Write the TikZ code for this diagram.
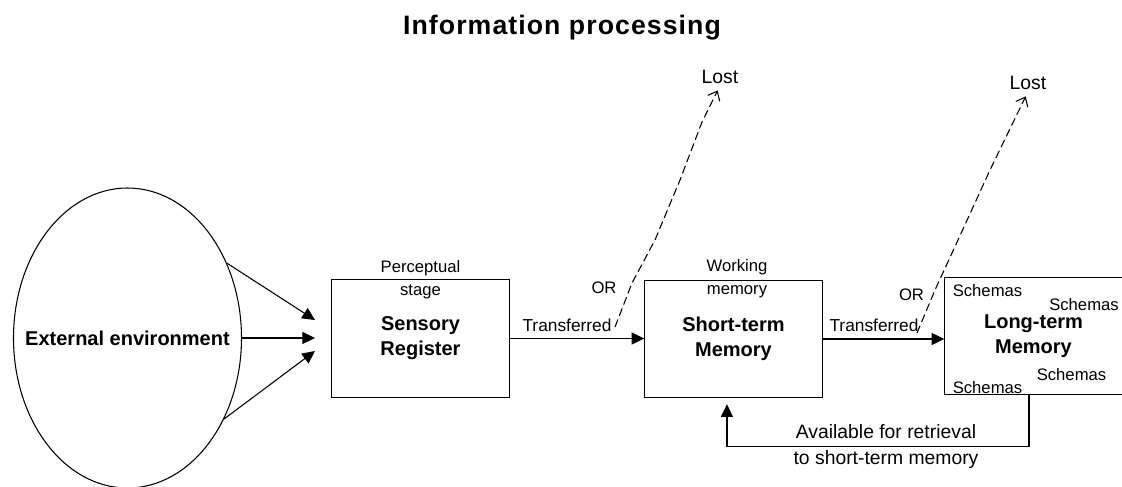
\documentclass[tikz,border=0pt]{standalone}
\usepackage{fontspec}
\setmainfont{Liberation Sans}
\newfontfamily\titlefont[LetterSpace=4]{Liberation Sans}
\usetikzlibrary{arrows.meta,shapes.geometric}
\tikzset{
  box/.style={draw, minimum width=133pt, minimum height=88pt, inner sep=0pt, align=center,
    font=\bfseries\fontsize{15}{18.75}\selectfont},
  lbl/.style={font=\fontsize{12.5}{17}\selectfont, align=center, inner sep=1pt},
  arr/.style={-{Triangle[length=9.5pt,width=9pt]}},
  lostarr/.style={dash pattern=on 6pt off 3pt, -{Straight Barb[length=6pt,width=10pt]}, shorten >=4pt}
}

\begin{document}
\begin{tikzpicture}[x=0.75pt, y=-0.75pt, line width=0.8pt]
    \useasboundingbox (0,0) rectangle (1122,486);
    \node[font=\titlefont\bfseries\fontsize{20}{24}\selectfont] (title) at (562,28) {Information processing};
    % environment
    \node[draw, ellipse, minimum width=171pt, minimum height=225pt, inner sep=0pt] (env) at (127.5,338) {};
    \node[font=\bfseries\fontsize{15}{18}\selectfont] (envtext) at (env) {External environment};
    \coordinate (in1) at (315,320); \coordinate (in2) at (315,338); \coordinate (in3) at (315,351);
    \draw[arr] (env.37) -- (in1);
    \draw[arr] (env.east) -- (in2);
    \draw[arr] (env.-40) -- (in3);
    % stores
    \node[box] (sens) at (420.5,338.5) {Sensory\\Register};
    \node[box] (stm) at (733.5,339) {Short-term\\Memory};
    \node[box] (ltm) at (1033.5,336) {Long-term\\Memory};
    \node[lbl] (perc) at (420.5,279.5) {Perceptual\\stage};
    \node[lbl] (work) at (737,279) {Working\\memory};
    \draw[arr] (sens.east) -- (sens.east -| stm.west);
    \draw[arr] (stm.east) -- (stm.east -| ltm.west);
    % transferred or lost
    \node[lbl, font=\fontsize{13}{15}\selectfont] (tr1) at (567,325) {Transferred};
    \node[lbl, font=\fontsize{13}{15}\selectfont] (tr2) at (874,325) {Transferred};
    \node[lbl] (or1) at (604,288) {OR};
    \node[lbl] (or2) at (911.5,295) {OR};
    \node[lbl, font=\fontsize{14.5}{17}\selectfont] (lost1) at (720,77) {Lost};
    \node[lbl, font=\fontsize{14.5}{17}\selectfont] (lost2) at (1028,83) {Lost};
    \coordinate (d1) at (615,327); \coordinate (d2) at (917,333);
    \draw[lostarr] (d1) -- (632,283) -- (655,240) -- (680,180) -- (702,122) -- (lost1.south);
    \draw[lostarr] (d2) -- (935,290) -- (958,240) -- (990,170) -- (lost2.south);
    % schemas
    \node[lbl] (sc1) at (987.5,291) {Schemas};
    \node[lbl] (sc2) at (1084,305) {Schemas};
    \node[lbl] (sc3) at (1071.5,375) {Schemas};
    \node[lbl] (sc4) at (987.5,388) {Schemas};
    % retrieval
    \draw[arr] ([xshift=-3.4pt]ltm.south) -- ++(0,51) -| ([xshift=-4.9pt, yshift=-4.5pt]stm.south);
    \node[lbl, font=\fontsize{14.5}{20}\selectfont] (ret) at (886,446.5) {Available for retrieval\\to short-term memory};
\end{tikzpicture}
\end{document}
